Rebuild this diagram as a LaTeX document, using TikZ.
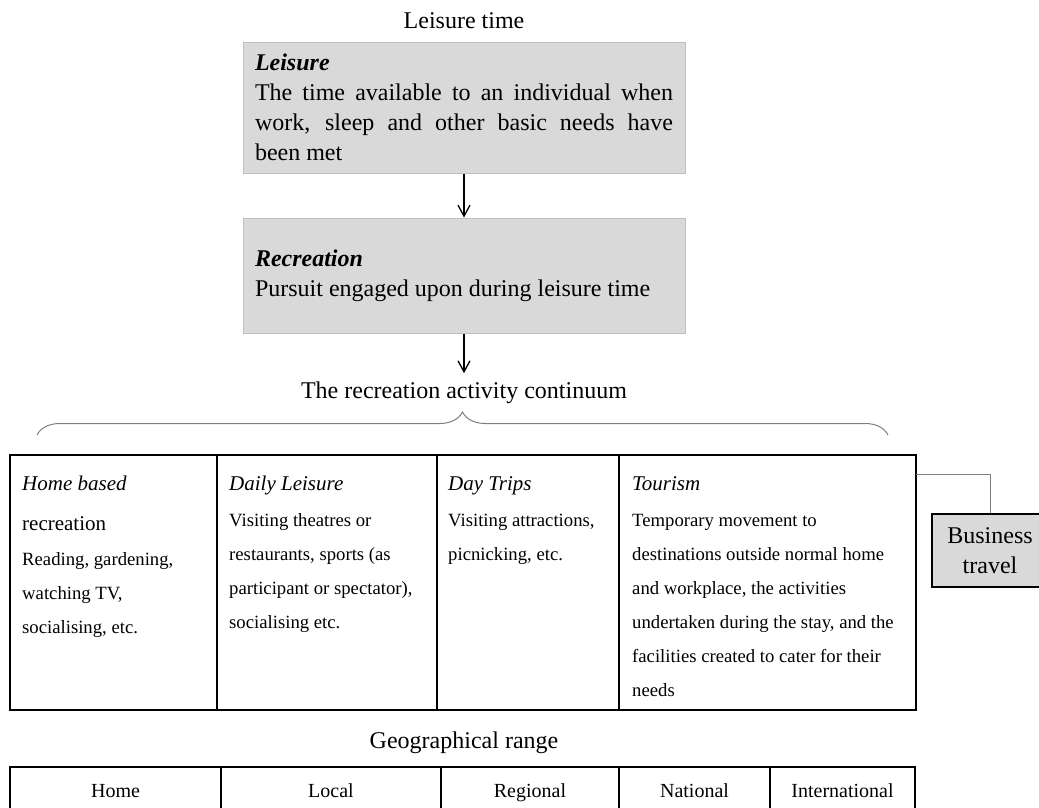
\documentclass[tikz,border=0pt]{standalone}
\usepackage{fontspec}
\setmainfont{Liberation Serif}
\usepackage{xcolor}
\usetikzlibrary{positioning, arrows.meta, calc}
\usetikzlibrary{decorations.pathreplacing}
\definecolor{boxfill}{HTML}{D9D9D9}
\definecolor{boxedge}{HTML}{BFBFBF}
\definecolor{linegrey}{HTML}{7F7F7F}
\tikzset{
  greybox/.style={draw=boxedge, fill=boxfill, line width=1pt, text width=418pt, inner xsep=12pt, inner ysep=0pt, align=justify, font=\fontsize{24}{30}\selectfont},
  heading/.style={inner sep=0pt, anchor=base, font=\fontsize{24}{30}\selectfont},
  celltitle/.style={anchor=base west, inner sep=0pt, align=left, font=\fontsize{21}{40}\selectfont\itshape},
  celltext/.style={anchor=base west, inner sep=0pt, align=left, font=\fontsize{18.7}{34}\selectfont},
  rangetext/.style={inner sep=0pt, anchor=base, font=\fontsize{20}{24}\selectfont},
  bizbox/.style={draw=black, fill=boxfill, line width=1.3pt, minimum width=116pt, minimum height=73pt, inner sep=0pt, align=center, font=\fontsize{24}{30}\selectfont},
  arr/.style={-{Straight Barb[length=11pt,width=12pt]}, line width=1.3pt},
  tableline/.style={line width=1.3pt},
  connector/.style={draw=linegrey, line width=1pt},
  bracestyle/.style={decorate, decoration={brace, amplitude=23pt}, draw=linegrey, line width=1pt}
}

\begin{document}
\begin{tikzpicture}[x=1pt, y=-1pt]
  \useasboundingbox (0,0) rectangle (1039,807);

  % Leisure and recreation boxes
  \node[heading] (leisuretime) at (464,28) {Leisure time};
  \node[greybox, minimum height=131pt] (leisure) at (464,107.5)
    {\textbf{\textit{Leisure}}\\The time available to an individual when\linebreak work, sleep and other basic needs have\linebreak been met};
  \node[greybox, minimum height=115pt] (recreation) at (464,275.5)
    {\textbf{\textit{Recreation}}\\Pursuit engaged upon during leisure time};
  \node[heading, inner ysep=8pt] (continuum) at (464,398) {The recreation activity continuum};
  \draw[arr] (leisure) -- (recreation);
  \draw[arr] (recreation) -- (continuum);

  % Brace over the continuum
  \coordinate (braceleft) at (37,435);
  \coordinate (braceright) at (888,435);
  \draw[bracestyle] (braceleft) -- (braceright);

  % Activity table (base anchor = last line)
  \draw[tableline] (10,455) rectangle (916,710);
  \foreach \x in {217,437,619}
    \draw[tableline] (\x,455) -- (\x,710);
  \node[celltitle] (homebased) at (22,530) {Home based\\{\upshape recreation}};
  \node[celltext] (homebody) at (22,633) {Reading, gardening,\\watching TV,\\socialising, etc.};
  \node[celltitle] (daily) at (229,490) {Daily Leisure};
  \node[celltext] (dailybody) at (229,628) {Visiting theatres or\\restaurants, sports (as\\participant or spectator),\\socialising etc.};
  \node[celltitle] (daytrips) at (448,490) {Day Trips};
  \node[celltext] (daytripsbody) at (448,560) {Visiting attractions,\\picnicking, etc.};
  \node[celltitle] (tourism) at (632,490) {Tourism};
  \node[celltext] (tourismbody) at (632,696) {Temporary movement to\\destinations outside normal home\\and workplace, the activities\\undertaken during the stay, and the\\facilities created to cater for their\\needs};

  % Business travel
  \node[bizbox] (business) at (990,550.5) {Business\\travel};
  \coordinate (tableedge) at (916,474);
  \draw[connector] (tableedge) -| (business.north);

  % Geographical range
  \node[heading] (georange) at (464,748) {Geographical range};
  \draw[tableline] (10,815) -- (10,767) -- (915,767) -- (915,815);
  \foreach \x in {221,441,619,770}
    \draw[tableline] (\x,767) -- (\x,815);
  \node[rangetext] (home) at (115.5,797) {Home};
  \node[rangetext] (local) at (331,797) {Local};
  \node[rangetext] (regional) at (530,797) {Regional};
  \node[rangetext] (national) at (694.5,797) {National};
  \node[rangetext] (international) at (842.5,797) {International};
\end{tikzpicture}
\end{document}
